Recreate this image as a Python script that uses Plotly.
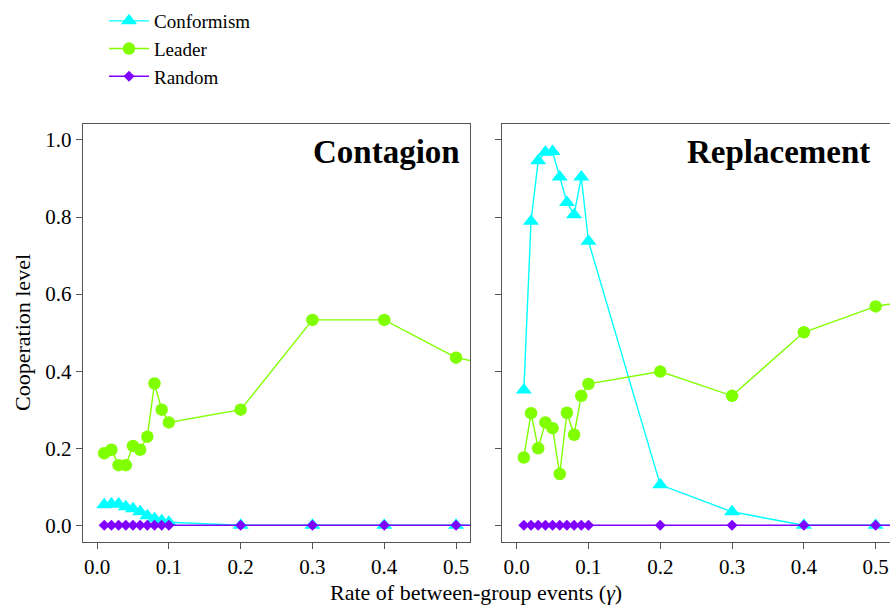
import plotly.graph_objects as go

# ---- data ----
gamma = [0.01, 0.02, 0.03, 0.04, 0.05, 0.06, 0.07, 0.08, 0.09, 0.10, 0.2, 0.3, 0.4, 0.5, 0.6]

contagion_conformism = [0.053, 0.055, 0.055, 0.048, 0.043, 0.035, 0.025, 0.017, 0.012, 0.008, 0, 0, 0, 0, 0]
contagion_leader = [0.187, 0.196, 0.156, 0.156, 0.206, 0.196, 0.230, 0.368, 0.300, 0.267, 0.300, 0.533, 0.533, 0.435, 0.397]
contagion_random = [0] * 15

replacement_conformism = [0.351, 0.789, 0.946, 0.968, 0.970, 0.904, 0.838, 0.806, 0.904, 0.737, 0.105, 0.035, 0.0, 0.0, 0.0]
replacement_leader = [0.176, 0.291, 0.200, 0.267, 0.252, 0.133, 0.292, 0.235, 0.336, 0.367, 0.399, 0.336, 0.501, 0.568, 0.600]
replacement_random = [0] * 15

x_ticks = [0.0, 0.1, 0.2, 0.3, 0.4, 0.5]
x_ticklabels = ["0.0", "0.1", "0.2", "0.3", "0.4", "0.5"]
y_ticks = [0.0, 0.2, 0.4, 0.6, 0.8, 1.0]
y_ticklabels = ["0.0", "0.2", "0.4", "0.6", "0.8", "1.0"]

panel_titles = ["Contagion", "Replacement"]
series_names = ["Conformism", "Leader", "Random"]

# ---- styles ----
CYAN = "#00FFFF"
GREEN = "#80FF00"
PURPLE = "#8000FF"
FRAME = "#555555"
FONT = "Times New Roman, Liberation Serif, serif"

W, H = 890, 605

fig = go.Figure()

styles = [
    dict(color=CYAN, symbol="triangle-up", size=14),
    dict(color=GREEN, symbol="circle", size=12.5),
    dict(color=PURPLE, symbol="diamond", size=8.5),
]

panels = [
    ("x", "y", [contagion_conformism, contagion_leader, contagion_random]),
    ("x2", "y2", [replacement_conformism, replacement_leader, replacement_random]),
]

for pi, (xa, ya, series) in enumerate(panels):
    for si, vals in enumerate(series):
        st = styles[si]
        fig.add_trace(go.Scatter(
            x=gamma, y=vals, xaxis=xa, yaxis=ya,
            mode="lines+markers",
            name=series_names[si],
            legendgroup=series_names[si],
            showlegend=(pi == 0),
            line=dict(color=st["color"], width=1.4),
            marker=dict(color=st["color"], symbol=st["symbol"], size=st["size"], line=dict(width=0)),
            cliponaxis=True,
        ))

def px_x(p):
    return p / W

def px_y(p):
    return (H - p) / H

left_dom = [px_x(82.7), px_x(470.4)]
right_dom = [px_x(502.3), 1.0]
y_dom = [px_y(541.7), px_y(124)]

xr_left = [-0.02, 0.52]
xr_right = [-0.02, -0.02 + (890 - 502.3) / (470.4 - 82.7) * 0.54]
yr = [-0.0426, 1.0415]

common_ax = dict(
    showgrid=False, zeroline=False,
    showline=True, linecolor=FRAME, linewidth=1,
    ticks="outside", ticklen=6, tickwidth=1, tickcolor=FRAME,
    tickfont=dict(family=FONT, size=21, color="black"),
)

fig.update_layout(
    width=W, height=H,
    margin=dict(l=0, r=0, t=0, b=0),
    paper_bgcolor="white", plot_bgcolor="white",
    font=dict(family=FONT, color="black"),
    xaxis=dict(domain=left_dom, range=xr_left, tickvals=x_ticks, ticktext=x_ticklabels,
               mirror=True, anchor="y", **common_ax),
    yaxis=dict(domain=y_dom, range=yr, tickvals=y_ticks, ticktext=y_ticklabels,
               mirror=True, anchor="x", **common_ax),
    xaxis2=dict(domain=right_dom, range=xr_right, tickvals=x_ticks, ticktext=x_ticklabels,
                mirror=True, anchor="y2", **common_ax),
    yaxis2=dict(domain=y_dom, range=yr, tickvals=y_ticks, showticklabels=False,
                mirror=False, anchor="x2", **common_ax),
    legend=dict(
        x=px_x(104), y=px_y(2), xanchor="left", yanchor="top",
        font=dict(family=FONT, size=19, color="black"),
        bgcolor="rgba(0,0,0,0)", traceorder="normal",
        tracegroupgap=4, itemwidth=40,
    ),
    showlegend=True,
)

# panel titles
fig.add_annotation(x=px_x(462), y=px_y(152), xref="paper", yref="paper",
                   xanchor="right", yanchor="middle", showarrow=False,
                   text="<b>%s</b>" % panel_titles[0],
                   font=dict(family=FONT, size=33, color="black"))
fig.add_annotation(x=px_x(872), y=px_y(152), xref="paper", yref="paper",
                   xanchor="right", yanchor="middle", showarrow=False,
                   text="<b>%s</b>" % panel_titles[1],
                   font=dict(family=FONT, size=33, color="black"))

# axis titles
fig.add_annotation(x=px_x(476), y=px_y(592), xref="paper", yref="paper",
                   xanchor="center", yanchor="middle", showarrow=False,
                   text="Rate of between-group events (<i>γ</i>)",
                   font=dict(family=FONT, size=22, color="black"))
fig.add_annotation(x=px_x(22), y=px_y(333), xref="paper", yref="paper",
                   xanchor="center", yanchor="middle", showarrow=False, textangle=-90,
                   text="Cooperation level",
                   font=dict(family=FONT, size=22, color="black"))

fig.write_html("out.html")
